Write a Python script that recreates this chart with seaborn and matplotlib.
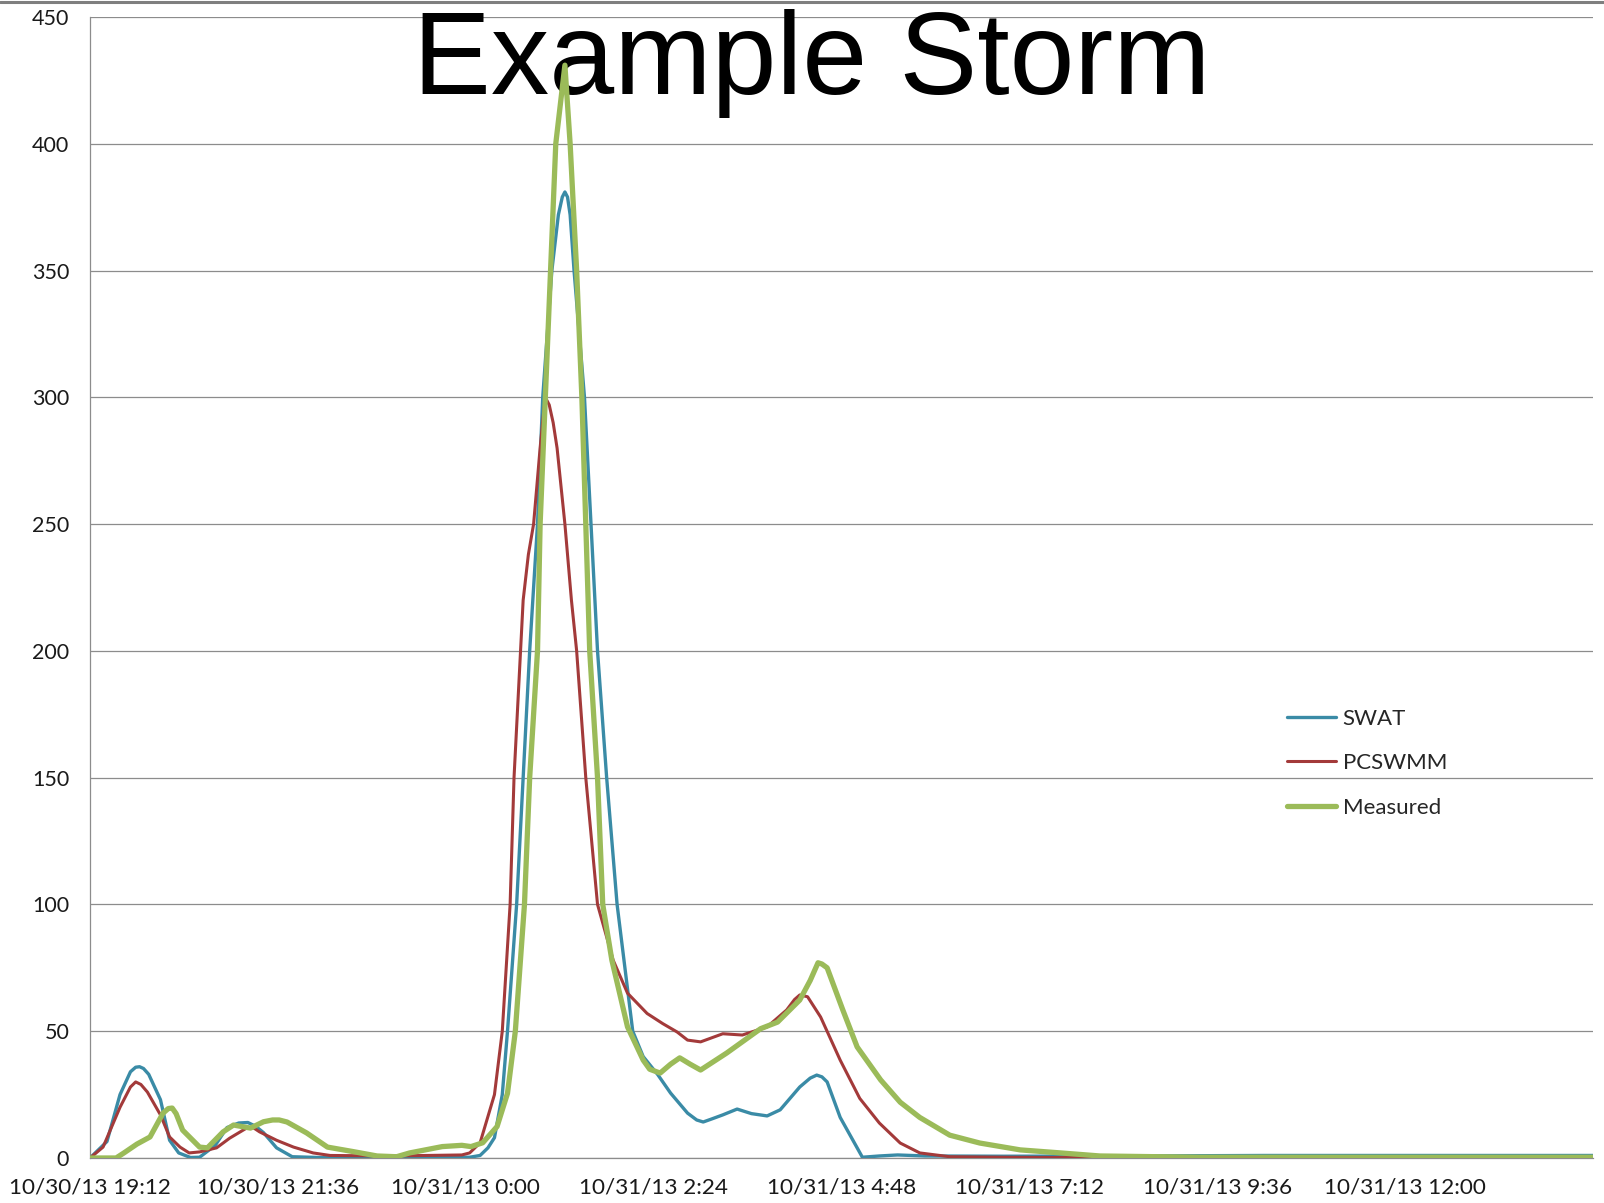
import numpy as np
import pandas as pd
import matplotlib
matplotlib.use("Agg")
import matplotlib.pyplot as plt
from matplotlib.lines import Line2D
import seaborn as sns

# ---------------- data ----------------
title = "Example Storm"
start_time = "2013-10-30 19:12"
axis_span_min = 1152          # x axis runs to 10/31/13 14:24
tick_step_min = 144           # 2:24 between ticks
x_tick_labels = ["10/30/13 19:12", "10/30/13 21:36", "10/31/13 0:00", "10/31/13 2:24",
                 "10/31/13 4:48", "10/31/13 7:12", "10/31/13 9:36", "10/31/13 12:00"]
y_ticks = [0, 50, 100, 150, 200, 250, 300, 350, 400, 450]
series_names = ["SWAT", "PCSWMM", "Measured"]

swat_min = [0, 13, 23, 31, 35, 38, 41, 45, 54, 61, 68, 77, 84, 96, 105, 114, 121, 127, 133, 143, 155, 175, 230, 291,
            299, 305, 310, 316, 320, 327, 332, 337, 343, 347, 354, 359, 362, 364, 366, 368, 371, 379, 384, 389, 396, 404,
            416, 424, 435, 445, 458, 465, 470, 476, 485, 496, 507, 519, 529, 544, 552, 557, 561, 565, 575, 588, 592, 605, 619, 640,
            700, 800, 900, 1000, 1152]
swat_val = [0, 6.5, 25, 34, 35.8, 36, 35.3, 33, 23, 7, 2, 0.2, 0.3, 5, 12, 13.8, 14, 12.5, 10, 4, 0.5, 0.2, 0.3, 0.3,
            1, 4, 8, 25, 50, 100, 150, 200, 250, 300, 350, 372, 379, 381, 379, 372, 350, 300, 250, 200, 150, 100,
            50, 40, 33, 25.6, 17.7, 15, 14.2, 15.3, 17, 19.3, 17.5, 16.6, 19, 28, 31.5, 32.7, 32, 30, 16, 4, 0.3, 0.8, 1.2, 0.8,
            0.7, 0.8, 1.0, 1.0, 1.0]

pcswmm_min = [0, 10, 23, 31, 35, 39, 44, 54, 61, 69, 76, 84, 97, 107, 120, 125, 130, 143, 156, 171, 184, 230, 285,
              291, 299, 310, 316, 322, 325, 330, 332, 336, 340, 345, 348, 350, 352, 355, 358, 364, 369, 373, 380, 389, 401, 412,
              427, 439, 450, 458, 468, 485, 500, 519, 534, 540, 544, 550, 560, 575, 590, 605, 621, 636, 659, 700, 774,
              850, 1152]
pcswmm_val = [0, 4.3, 20, 28, 30, 29, 26, 17, 8.3, 4.3, 2, 2.4, 4, 7.8, 11.8, 12, 10.3, 7, 4.3, 2, 1, 0.8, 1.2,
              2, 6, 25, 50, 100, 150, 200, 220, 238, 250, 280, 296, 299, 297, 290, 280, 250, 220, 200, 150, 100, 78, 65,
              57, 53, 49.7, 46.5, 45.8, 49, 48.5, 51.7, 58.4, 62.5, 64.3, 63.6, 55.6, 38.6, 23.5, 13.8, 5.9, 2, 0.5, 0.3, 0.1,
              0, 0]

measured_min = [0, 20, 26, 36, 46, 56, 60, 63, 66, 71, 84, 90, 102, 110, 123, 133, 140, 145, 151, 166, 182, 202, 220, 235,
                245, 260, 270, 285, 292, 301, 312, 320, 326, 333, 337, 343, 345, 349, 353, 357, 364, 368, 373, 377,
                380, 383, 389, 393, 400, 412, 424, 429, 437, 445, 452, 460, 468, 488, 514, 527, 544, 552, 558, 561, 565, 577,
                588, 606, 621, 636, 659, 682, 713, 744, 774, 850, 1152]
measured_val = [0, 0, 2, 5.5, 8.3, 17.7, 19.5, 19.7, 17.5, 11, 4.3, 4, 10.3, 13, 11.8, 14.3, 15, 15, 14.2, 9.9, 4.3, 2.5, 0.8, 0.5,
                2, 3.5, 4.5, 5, 4.5, 6, 12.4, 25.5, 50, 100, 150, 200, 250, 300, 350, 400, 431, 400, 350, 300,
                250, 200, 150, 100, 78, 51.7, 38.6, 35, 33.5, 37, 39.5, 37, 34.7, 41.4, 51, 53.6, 62.3, 70, 77, 76.5, 75, 58.4,
                43.8, 30.8, 22, 16, 9, 5.9, 3.2, 2, 0.8, 0.3, 0.3]

# ---------------- styling ----------------
colors = {"SWAT": "#3A8BA6", "PCSWMM": "#A33A3A", "Measured": "#9BBB59"}
widths = {"SWAT": 2.4, "PCSWMM": 2.2, "Measured": 3.8}

sns.set_style("white")
plt.rcParams["font.family"] = ["Lato", "DejaVu Sans"]

t0 = pd.Timestamp(start_time)
frames = []
for name, mins, vals in [("SWAT", swat_min, swat_val),
                         ("PCSWMM", pcswmm_min, pcswmm_val),
                         ("Measured", measured_min, measured_val)]:
    frames.append(pd.DataFrame({
        "time": t0 + pd.to_timedelta(np.asarray(mins, dtype=float), unit="min"),
        "flow": vals,
        "series": name,
    }))
df = pd.concat(frames, ignore_index=True)

fig = plt.figure(figsize=(16.04, 12.03), dpi=100)
ax = fig.add_axes([90 / 1604, 1 - 1158 / 1203, (1593 - 90) / 1604, (1158 - 17) / 1203])

for name in series_names:
    sub = df[df["series"] == name]
    sns.lineplot(data=sub, x="time", y="flow", ax=ax, color=colors[name],
                 linewidth=widths[name], estimator=None, sort=False, legend=False,
                 solid_joinstyle="round", solid_capstyle="round", zorder=3)

ax.set_xlim(t0, t0 + pd.Timedelta(minutes=axis_span_min))
ax.set_ylim(0, 450)
ax.set_yticks(y_ticks)
ax.set_yticklabels([str(v) for v in y_ticks], fontsize=15.5, color="#1a1a1a")
xt = [t0 + pd.Timedelta(minutes=tick_step_min * i) for i in range(len(x_tick_labels))]
ax.set_xticks(xt)
ax.set_xticklabels(x_tick_labels, fontsize=16.2, color="#1a1a1a")
ax.set_xlabel("")
ax.set_ylabel("")

ax.grid(axis="y", color="#8c8c8c", linewidth=0.9)
ax.grid(axis="x", visible=False)
ax.set_axisbelow(True)
for s in ["top", "right"]:
    ax.spines[s].set_visible(False)
for s in ["left", "bottom"]:
    ax.spines[s].set_color("#8c8c8c")
    ax.spines[s].set_linewidth(0.9)
ax.tick_params(axis="y", direction="out", length=6, width=0.9, color="#8c8c8c", pad=9)
ax.tick_params(axis="x", direction="out", length=6, width=0.9, color="#8c8c8c", pad=8)

handles = [Line2D([], [], color=colors[n], linewidth=widths[n]) for n in series_names]
ax.legend(handles, series_names, loc="center left", bbox_to_anchor=(0.7964, 0.346),
          frameon=False, fontsize=16, handlelength=2.2, handletextpad=0.3,
          labelspacing=1.1, borderpad=0, borderaxespad=0)

# title sits beneath the data lines
ax.text(0.506, 1 - 94 / 1203, title, transform=fig.transFigure, ha="center", va="baseline",
        fontsize=84, family=["Liberation Sans", "DejaVu Sans"], color="black",
        zorder=2.5, clip_on=False)

# slide border line along the top
fig.add_artist(Line2D([0, 1], [1 - 1.5 / 1203, 1 - 1.5 / 1203], transform=fig.transFigure,
                      color="#7f7f7f", linewidth=2.2))

fig.savefig("out.png", dpi=100)
